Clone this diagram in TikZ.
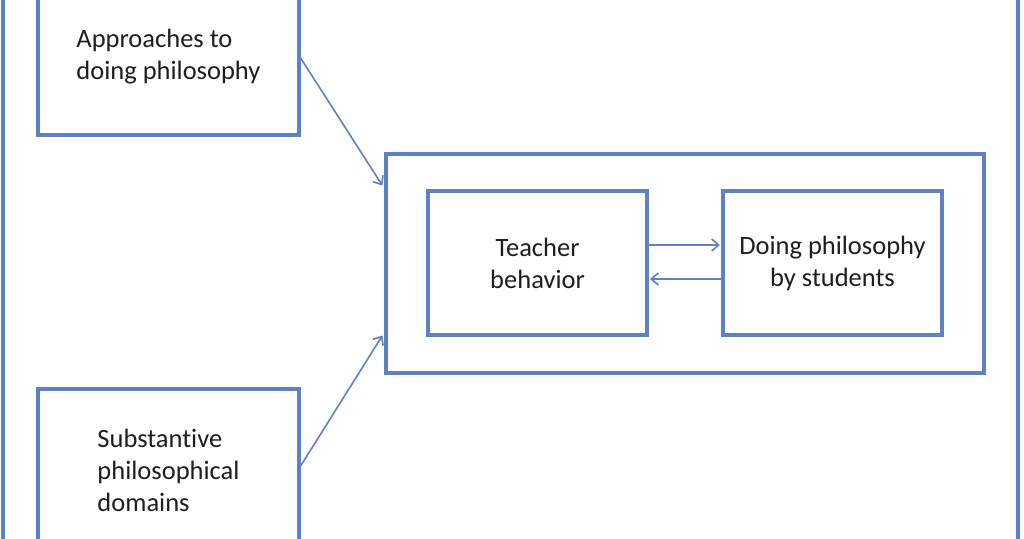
\documentclass[tikz,border=0pt]{standalone}
\usepackage{fontspec}
\setmainfont{Carlito}[RawFeature={-liga}]
\usetikzlibrary{arrows.meta}
\definecolor{lineblue}{HTML}{5F80C2}
\definecolor{txt}{HTML}{1E1E1E}
\tikzset{
  box/.style={draw=lineblue, line width=3.2pt, fill=white, text=txt,
    font=\fontsize{26.5pt}{32pt}\selectfont, inner sep=0pt},
  conn/.style={draw=lineblue, line width=1.6pt,
    -{Straight Barb[length=7pt,width=12pt,line width=1.6pt]}}
}
\begin{document}
\begin{tikzpicture}[x=1pt,y=-1pt]
\useasboundingbox (0,0) rectangle (1024,538);
\clip (0,0) rectangle (1024,538);
\fill[white] (0,0) rectangle (1024,538);
\draw[lineblue, line width=3.2pt] (3,-20) rectangle (1018,560);
\node[box, minimum width=261pt, minimum height=156pt, align=left] (tl) at (168.5,57) {Approaches to\\doing philosophy};
\node[box, minimum width=261pt, minimum height=162pt, align=left] (bl) at (168.5,470) {Substantive\\philosophical\\domains};
\node[box, minimum width=598pt, minimum height=219pt] (big) at (685,263.5) {};
\node[box, minimum width=219pt, minimum height=144pt, align=center] (tb) at (537.5,263) {Teacher\\behavior};
\node[box, minimum width=219pt, minimum height=144pt, align=center] (dp) at (832.5,263) {Doing philosophy\\by students};
\draw[conn] ([yshift=-1pt]tl.east) -- ([xshift=-2pt,yshift=78pt]big.west);
\draw[conn] ([yshift=4pt]bl.east) -- ([xshift=-2pt,yshift=-72pt]big.west);
\draw[conn] ([yshift=18pt]tb.east) -- ([xshift=-1.5pt,yshift=18pt]dp.west);
\draw[conn] ([yshift=-16pt]dp.west) -- ([xshift=1.5pt,yshift=-16pt]tb.east);
\end{tikzpicture}
\end{document}
